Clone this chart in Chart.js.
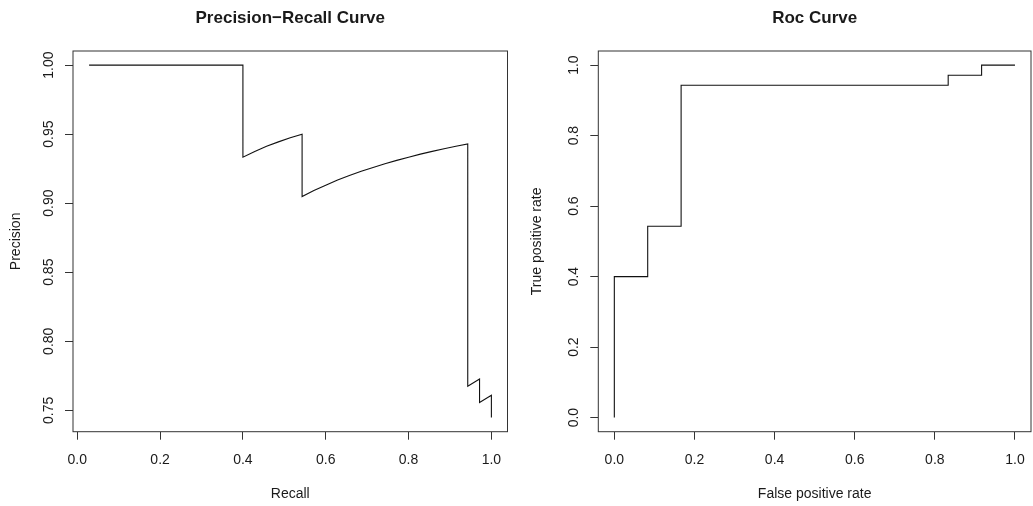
<!DOCTYPE html>
<html>
<head>
<meta charset="utf-8">
<script src="https://cdn.jsdelivr.net/npm/chart.js@4.4.1/dist/chart.umd.min.js"></script>
<style>
  html, body { margin: 0; padding: 0; background: #fff; }
  #wrap { position: relative; width: 1033px; height: 506px; overflow: hidden; }
  canvas { position: absolute; top: 0; }
  #c1 { left: 0; }
  #c2 { left: 516px; }
</style>
</head>
<body>
<div id="wrap">
  <canvas id="c1" width="516" height="506"></canvas>
  <canvas id="c2" width="517" height="506"></canvas>
</div>
<script>
// ---- Precision-Recall data ----
const prRecall = [0.0286, 0.4, 0.4, 0.4286, 0.4571, 0.4857, 0.5143, 0.5429, 0.5429, 0.5714, 0.6, 0.6286, 0.6571, 0.6857, 0.7143, 0.7429, 0.7714, 0.8, 0.8286, 0.8571, 0.8857, 0.9143, 0.9429, 0.9429, 0.9714, 0.9714, 1.0, 1.0];
const prPrecision = [1, 1, 0.9333, 0.9375, 0.9412, 0.9444, 0.9474, 0.95, 0.9048, 0.9091, 0.9130, 0.9167, 0.92, 0.9231, 0.9259, 0.9286, 0.9310, 0.9333, 0.9355, 0.9375, 0.9394, 0.9412, 0.9429, 0.7674, 0.7727, 0.7556, 0.7609, 0.7447];
const prXTicks = [0, 0.2, 0.4, 0.6, 0.8, 1.0];
const prXLabels = ["0.0", "0.2", "0.4", "0.6", "0.8", "1.0"];
const prYTicks = [0.75, 0.80, 0.85, 0.90, 0.95, 1.00];
const prYLabels = ["0.75", "0.80", "0.85", "0.90", "0.95", "1.00"];

// ---- ROC data ----
const rocFpr = [0, 0, 0.0833, 0.0833, 0.1667, 0.1667, 0.8333, 0.8333, 0.9167, 0.9167, 1];
const rocTpr = [0, 0.4, 0.4, 0.5429, 0.5429, 0.9429, 0.9429, 0.9714, 0.9714, 1, 1];
const rocXTicks = [0, 0.2, 0.4, 0.6, 0.8, 1.0];
const rocXLabels = ["0.0", "0.2", "0.4", "0.6", "0.8", "1.0"];
const rocYTicks = [0, 0.2, 0.4, 0.6, 0.8, 1.0];
const rocYLabels = ["0.0", "0.2", "0.4", "0.6", "0.8", "1.0"];

const FONT = '"Liberation Sans", Arial, Helvetica, sans-serif';
const INK = '#1a1a1a';

const rframe = {
  id: 'rframe',
  afterDraw(chart, args, o) {
    const { ctx, chartArea: a, scales } = chart;
    ctx.save();
    ctx.strokeStyle = '#333';
    ctx.lineWidth = 1;
    ctx.strokeRect(a.left, a.top, a.right - a.left, a.bottom - a.top);
    ctx.fillStyle = INK;
    ctx.textAlign = 'center';
    ctx.textBaseline = 'alphabetic';
    ctx.font = 'bold 17px ' + FONT;
    ctx.fillText(o.title, (a.left + a.right) / 2, 23);
    ctx.font = '14px ' + FONT;
    o.xTicks.forEach((v, i) => {
      ctx.fillText(o.xLabels[i], scales.x.getPixelForValue(v), a.bottom + 32.5);
    });
    ctx.fillText(o.xTitle, (a.left + a.right) / 2, a.bottom + 66.5);
    o.yTicks.forEach((v, i) => {
      ctx.save();
      ctx.translate(a.left - 20.5, scales.y.getPixelForValue(v));
      ctx.rotate(-Math.PI / 2);
      ctx.fillText(o.yLabels[i], 0, 0);
      ctx.restore();
    });
    ctx.save();
    ctx.translate(a.left - o.yTitleOffset, (a.top + a.bottom) / 2);
    ctx.rotate(-Math.PI / 2);
    ctx.fillText(o.yTitle, 0, 0);
    ctx.restore();
    ctx.restore();
  }
};

function makeScale(min, max, tickVals) {
  return {
    type: 'linear',
    min: min,
    max: max,
    afterBuildTicks: (s) => { s.ticks = tickVals.map(v => ({ value: v })); },
    afterFit: (s) => { if (s.isHorizontal()) s.height = 0; else s.width = 0; },
    ticks: { display: false },
    border: { display: false },
    grid: { drawOnChartArea: false, drawTicks: true, tickLength: 8, color: '#333', lineWidth: 1 }
  };
}

function makeChart(id, xs, ys, pad, xr, yr, cfg) {
  const pts = xs.map((x, i) => ({ x: x, y: ys[i] }));
  return new Chart(document.getElementById(id), {
    type: 'scatter',
    data: {
      datasets: [{
        data: pts,
        showLine: true,
        borderColor: '#111',
        borderWidth: 1.1,
        pointRadius: 0,
        pointHoverRadius: 0,
        tension: 0,
        fill: false
      }]
    },
    options: {
      responsive: false,
      animation: false,
      devicePixelRatio: 1,
      layout: { padding: pad },
      scales: {
        x: makeScale(xr[0], xr[1], cfg.xTicks),
        y: makeScale(yr[0], yr[1], cfg.yTicks)
      },
      plugins: {
        legend: { display: false },
        tooltip: { enabled: false },
        title: { display: false },
        rframe: cfg
      },
      events: []
    },
    plugins: [rframe]
  });
}

makeChart('c1', prRecall, prPrecision,
  { left: 73, right: 8.5, top: 51, bottom: 74.3 },
  [-0.0103, 1.0389], [0.7345, 1.0102],
  { title: 'Precision\u2212Recall Curve', xTitle: 'Recall', yTitle: 'Precision', yTitleOffset: 53,
    xTicks: prXTicks, xLabels: prXLabels, yTicks: prYTicks, yLabels: prYLabels });

makeChart('c2', rocFpr, rocTpr,
  { left: 82.3, right: 2, top: 51, bottom: 74.3 },
  [-0.04, 1.04], [-0.04, 1.04],
  { title: 'Roc Curve', xTitle: 'False positive rate', yTitle: 'True positive rate', yTitleOffset: 57.5,
    xTicks: rocXTicks, xLabels: rocXLabels, yTicks: rocYTicks, yLabels: rocYLabels });
</script>
</body>
</html>
